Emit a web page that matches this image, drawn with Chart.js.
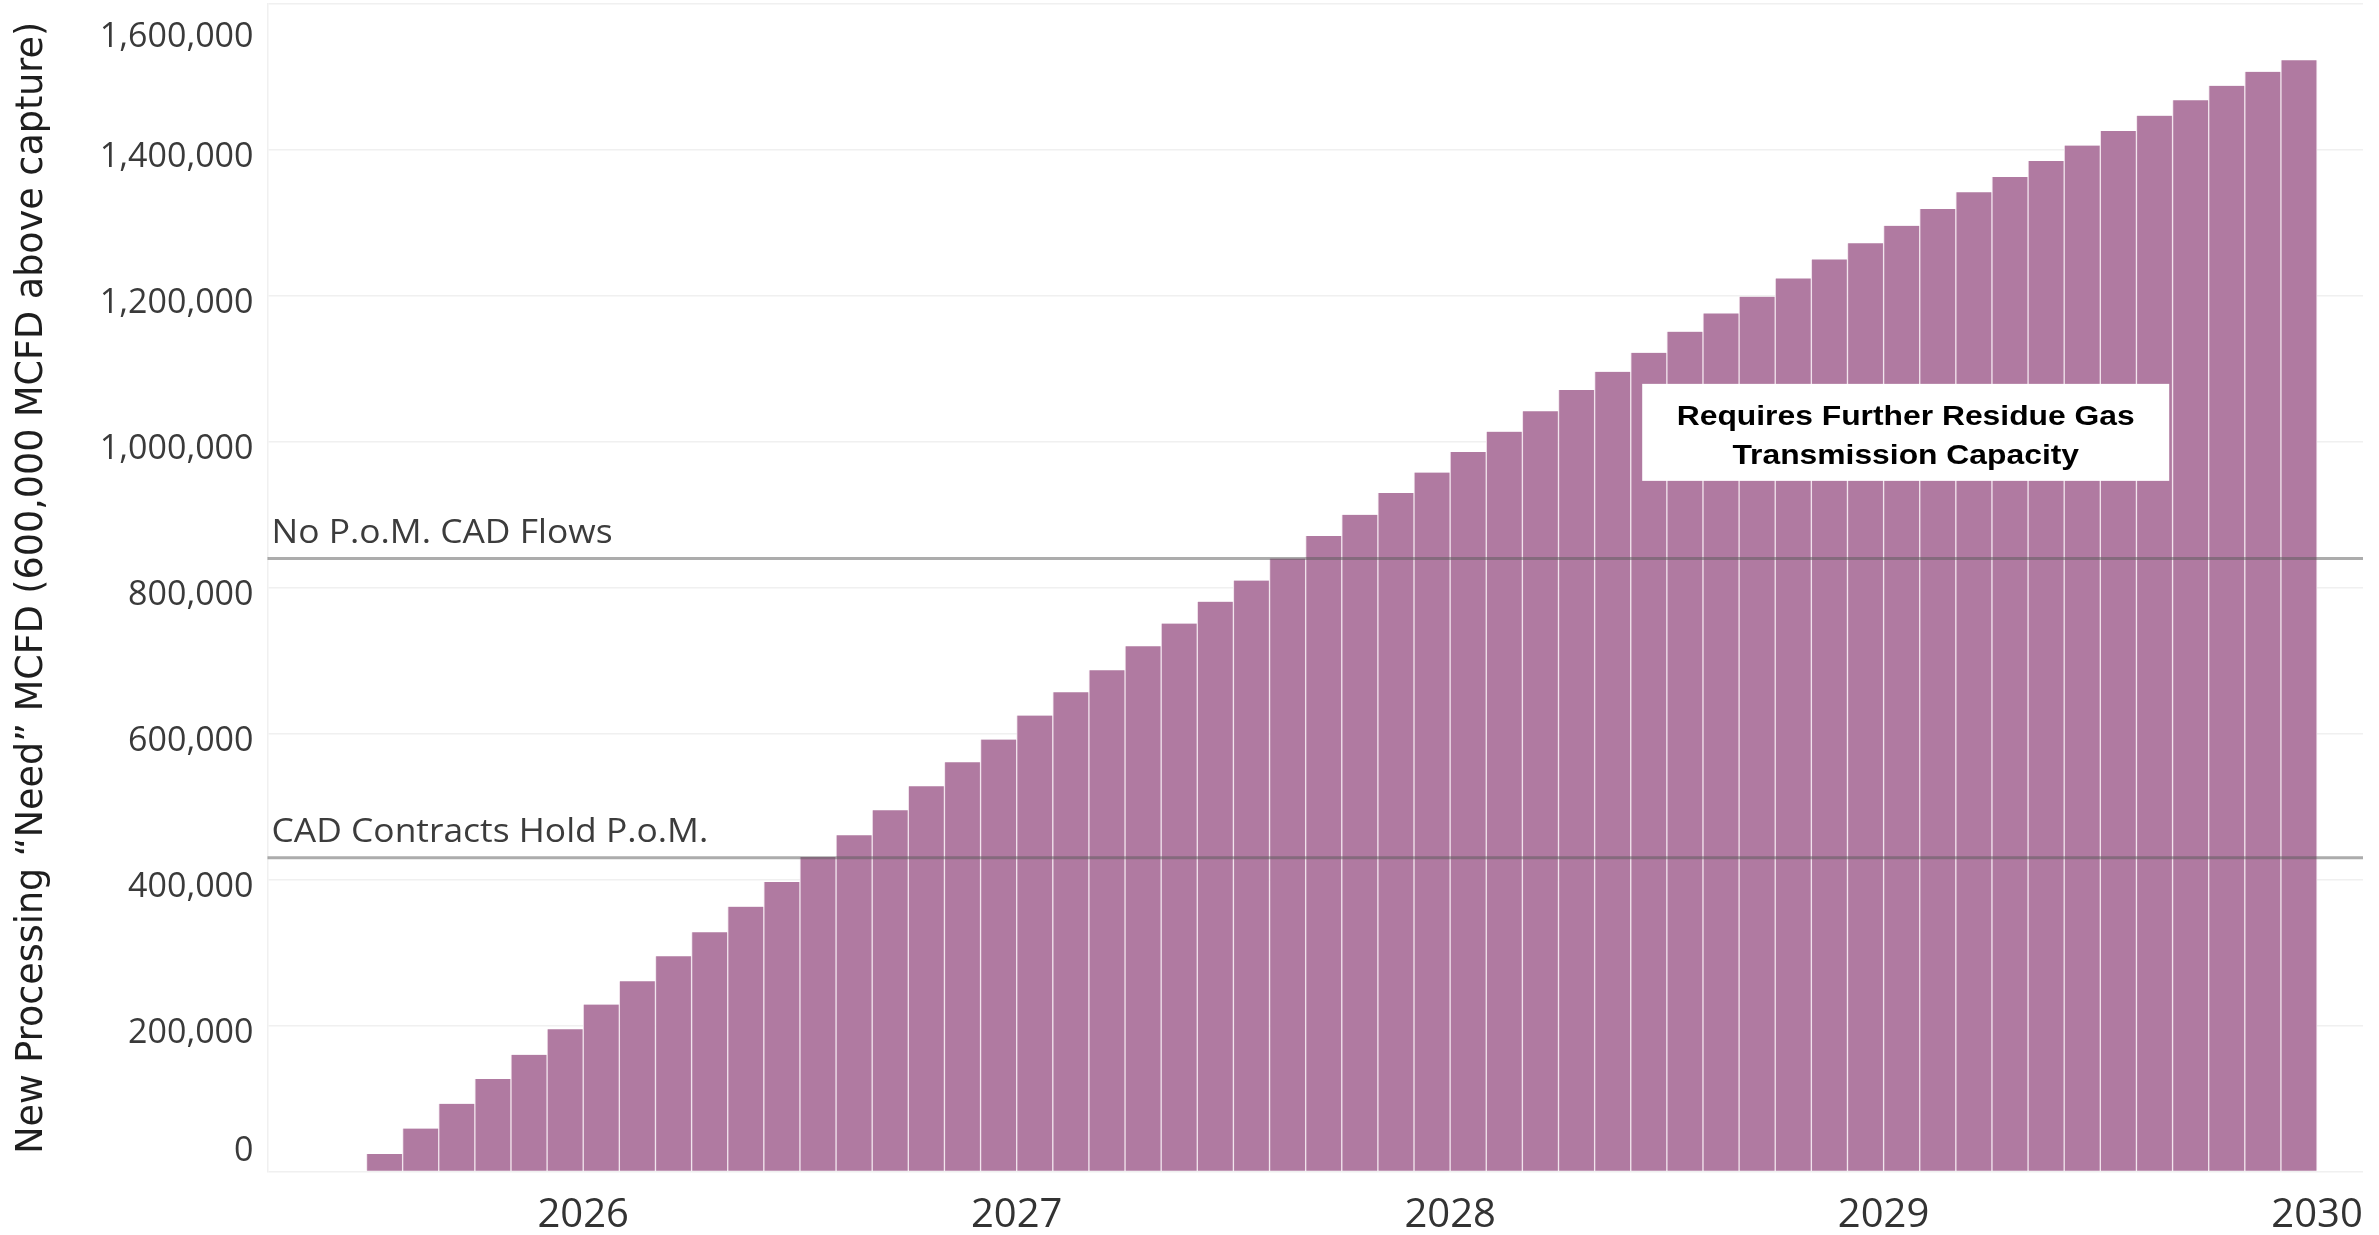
<!DOCTYPE html>
<html lang="en">
<head>
    <meta charset="UTF-8">
    <title>New Processing Need</title>
    <style>
        body {
            margin: 0;
            padding: 0;
            background-color: #fff;
        }
        #wrap {
            width: 2379px;
            height: 1235px;
        }
    </style>
    <script src="https://cdn.jsdelivr.net/npm/chart.js"></script>
</head>
<body>
    <div id="wrap">
        <canvas id="needChart" width="2379" height="1235"></canvas>
    </div>

    <script>
        // monthly buckets, Jul 2025 .. Dec 2029
        const months = [
            '2025-07', '2025-08', '2025-09', '2025-10', '2025-11', '2025-12',
            '2026-01', '2026-02', '2026-03', '2026-04', '2026-05', '2026-06',
            '2026-07', '2026-08', '2026-09', '2026-10', '2026-11', '2026-12',
            '2027-01', '2027-02', '2027-03', '2027-04', '2027-05', '2027-06',
            '2027-07', '2027-08', '2027-09', '2027-10', '2027-11', '2027-12',
            '2028-01', '2028-02', '2028-03', '2028-04', '2028-05', '2028-06',
            '2028-07', '2028-08', '2028-09', '2028-10', '2028-11', '2028-12',
            '2029-01', '2029-02', '2029-03', '2029-04', '2029-05', '2029-06',
            '2029-07', '2029-08', '2029-09', '2029-10', '2029-11', '2029-12'
        ];

        const needMcfd = [
            24000, 59000, 93000, 127000, 160000, 195000,
            229000, 261000, 295000, 328000, 363000, 397000,
            431000, 461000, 495000, 528000, 561000, 592000,
            625000, 657000, 687000, 720000, 751000, 781000,
            810000, 840000, 871000, 900000, 930000, 958000,
            986000, 1014000, 1042000, 1071000, 1096000, 1122000,
            1151000, 1176000, 1199000, 1224000, 1250000, 1272000,
            1296000, 1319000, 1342000, 1363000, 1385000, 1406000,
            1426000, 1447000, 1468000, 1488000, 1507000, 1523000
        ];

        const yTicks = [0, 200000, 400000, 600000, 800000, 1000000, 1200000, 1400000, 1600000];
        const xTicks = [2026, 2027, 2028, 2029, 2030];

        const refLines = [840000, 430000];
        const refLabels = ['No P.o.M. CAD Flows', 'CAD Contracts Hold P.o.M.'];

        const noteLines = ['Requires Further Residue Gas', 'Transmission Capacity'];
        const noteAt = { x: 2029.051, y: 1013000 };

        const yTitle = 'New Processing \u201CNeed\u201D MCFD (600,000 MCFD above capture)';

        // month "YYYY-MM" -> decimal year at the middle of the month
        function monthCenter(m) {
            const [yr, mo] = m.split('-').map(Number);
            return yr + (mo - 0.5) / 12;
        }

        const points = months.map((m, i) => ({ x: monthCenter(m), y: needMcfd[i] }));

        const overlay = {
            id: 'overlay',
            afterDatasetsDraw(chart) {
                const { ctx, chartArea: a, scales: { x, y } } = chart;
                ctx.save();

                // reference lines with their labels (label font is a condensed face in the original)
                ctx.font = '32px "Open Sans"';
                const lsx = 341 / ctx.measureText(refLabels[0]).width;
                refLines.forEach((v, i) => {
                    const py = y.getPixelForValue(v);
                    ctx.strokeStyle = 'rgba(90, 90, 90, 0.5)';
                    ctx.lineWidth = 3;
                    ctx.beginPath();
                    ctx.moveTo(a.left, py);
                    ctx.lineTo(a.right, py);
                    ctx.stroke();

                    ctx.save();
                    ctx.fillStyle = '#3c3c3c';
                    ctx.textAlign = 'left';
                    ctx.textBaseline = 'alphabetic';
                    ctx.translate(a.left + 4, py - 16);
                    ctx.scale(lsx, 1);
                    ctx.fillText(refLabels[i], 0, 0);
                    ctx.restore();
                });

                // note box
                const cx = x.getPixelForValue(noteAt.x);
                const cy = y.getPixelForValue(noteAt.y);
                const bw = 527, bh = 97;
                ctx.fillStyle = '#fff';
                ctx.fillRect(cx - bw / 2, cy - bh / 2, bw, bh);
                ctx.fillStyle = '#000';
                ctx.font = 'bold 27px "Liberation Sans"';
                ctx.textAlign = 'center';
                const sx = 458 / ctx.measureText(noteLines[0]).width;
                noteLines.forEach((t, i) => {
                    ctx.save();
                    ctx.translate(cx, cy - 7 + i * 39);
                    ctx.scale(sx, 1);
                    ctx.fillText(t, 0, 0);
                    ctx.restore();
                });

                // y tick labels, kept inside the plot height like the original
                ctx.fillStyle = '#3a3a3a';
                ctx.font = '34px "Open Sans"';
                ctx.textAlign = 'right';
                ctx.textBaseline = 'alphabetic';
                yTicks.forEach(v => {
                    const gy = y.getPixelForValue(v);
                    const c = Math.min(Math.max(gy + 5, a.top + 31), a.bottom - 23);
                    ctx.fillText(v.toLocaleString('en-US'), a.left - 14, c + 12);
                });

                ctx.restore();
            }
        };

        const ctx = document.getElementById('needChart').getContext('2d');
        new Chart(ctx, {
            type: 'bar',
            data: {
                datasets: [{
                    label: 'New Processing Need',
                    data: points,
                    backgroundColor: '#b07aa1',
                    borderColor: '#f1e3ec',
                    borderWidth: { top: 0, right: 1, bottom: 0, left: 1 },
                    borderSkipped: false,
                    barPercentage: 1,
                    categoryPercentage: 1
                }]
            },
            options: {
                responsive: false,
                animation: false,
                layout: { padding: { top: 4, right: 16, left: 0, bottom: 0 } },
                plugins: {
                    legend: { display: false },
                    tooltip: { enabled: false }
                },
                scales: {
                    x: {
                        type: 'linear',
                        min: 2025.2716,
                        max: 2030.106,
                        offset: false,
                        afterFit(scale) { scale.height = 63.4; },
                        afterBuildTicks(scale) {
                            scale.ticks = xTicks.map(v => ({ value: v }));
                        },
                        grid: { display: false, offset: false },
                        border: { display: false },
                        ticks: {
                            padding: 12,
                            color: '#333',
                            font: { family: 'Open Sans', size: 40 },
                            maxRotation: 0,
                            autoSkip: false,
                            callback: v => String(v)
                        }
                    },
                    y: {
                        min: 0,
                        max: 1600000,
                        afterFit(scale) { scale.width = 267.5; },
                        afterBuildTicks(scale) {
                            scale.ticks = yTicks.map(v => ({ value: v }));
                        },
                        grid: { color: '#f0f0f0', lineWidth: 1.5, drawTicks: false },
                        border: { display: true, color: '#f0f0f0', width: 1.5 },
                        ticks: { display: false },
                        title: {
                            display: true,
                            text: yTitle,
                            color: '#1e1e1e',
                            font: { family: 'DejaVu Sans', size: 36.5 },
                            padding: { top: 11, bottom: 0 }
                        }
                    }
                }
            },
            plugins: [overlay]
        });
    </script>
</body>
</html>
